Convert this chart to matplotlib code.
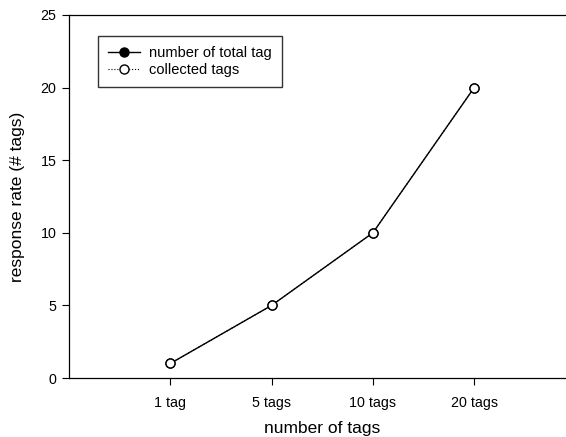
import matplotlib
matplotlib.use("Agg")
import matplotlib.pyplot as plt
from matplotlib.lines import Line2D

categories = ["1 tag", "5 tags", "10 tags", "20 tags"]
total_tags = [1, 5, 10, 20]
collected_tags = [1, 5, 10, 20]

plt.rcParams['font.family'] = ['Liberation Sans', 'DejaVu Sans']

fig = plt.figure(figsize=(5.66, 4.37), dpi=100)
W, H = 566, 437
left, right = 69, 69 + 5 * 101.3
bottom, top = 378, 15
ax = fig.add_axes([left / W, (H - bottom) / H, (right - left) / W, (bottom - top) / H])

x = list(range(1, len(categories) + 1))
ax.plot(x, total_tags, color='black', lw=1.0, marker='o', ms=6.5,
        mfc='black', mec='black', zorder=2)
ax.plot(x, collected_tags, color='black', lw=0.8, ls=':', marker='o', ms=6.5,
        mfc='white', mec='black', mew=1.0, zorder=3)

ax.set_xlim(0, 5)
ax.set_ylim(0, 25)
ax.set_xticks(x)
ax.set_xticklabels(categories)
ax.set_yticks([0, 5, 10, 15, 20, 25])
ax.tick_params(axis='both', direction='out', length=5, width=0.8, labelsize=10.3, pad=4)
ax.tick_params(axis='x', pad=8)
ax.spines['right'].set_visible(False)
for s in ['left', 'bottom', 'top']:
    ax.spines[s].set_linewidth(0.9)

ax.set_xlabel("number of tags", fontsize=12.5, labelpad=8)
ax.set_ylabel("response rate (# tags)", fontsize=12.5, labelpad=11)

handles = [
    Line2D([], [], color='black', lw=1.0, marker='o', ms=6.5, mfc='black', mec='black'),
    Line2D([], [], color='black', lw=0.8, ls=':', marker='o', ms=6.5, mfc='white', mec='black'),
]
leg = ax.legend(handles, ["number of total tag", "collected tags"],
                loc='upper left', bbox_to_anchor=((98 - left) / (right - left), (bottom - 36) / (bottom - top)),
                fontsize=10.5, frameon=True, fancybox=False, shadow=False,
                borderpad=0.7, handlelength=2.2, handletextpad=0.6, labelspacing=0.2,
                borderaxespad=0)
leg.get_frame().set_edgecolor('black')
leg.get_frame().set_linewidth(1.0)

fig.savefig("out.png", dpi=100)
